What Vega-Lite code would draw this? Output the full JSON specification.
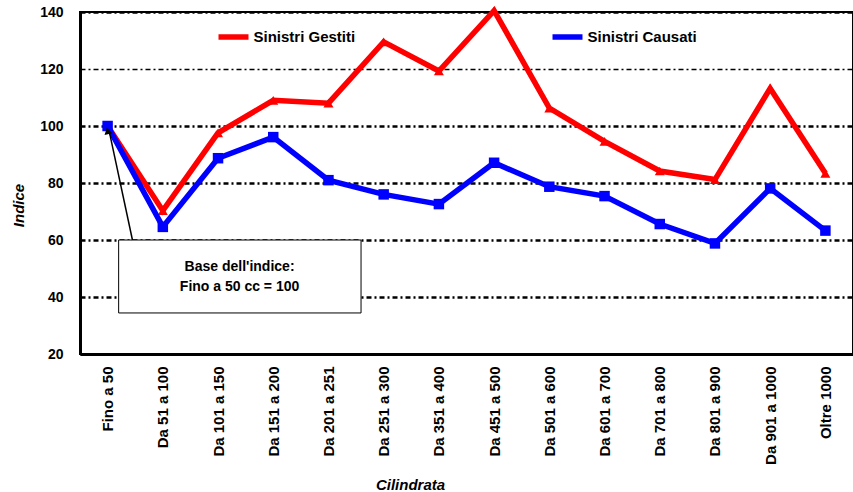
{
  "$schema": "https://vega.github.io/schema/vega-lite/v6.json",
  "width": 773,
  "height": 342,
  "autosize": "none",
  "padding": {"left": 80, "top": 12, "right": 0, "bottom": 138},
  "background": "white",
  "config": {
    "font": "Liberation Sans",
    "view": {"stroke": "black", "strokeWidth": 2}
  },
  "datasets": {
    "main": [
      {"cat": "Fino a 50", "serie": "Sinistri Gestiti", "val": 100},
      {"cat": "Da 51 a 100", "serie": "Sinistri Gestiti", "val": 70.3},
      {"cat": "Da 101 a 150", "serie": "Sinistri Gestiti", "val": 97.6},
      {"cat": "Da 151 a 200", "serie": "Sinistri Gestiti", "val": 109},
      {"cat": "Da 201 a 251", "serie": "Sinistri Gestiti", "val": 108},
      {"cat": "Da 251 a 300", "serie": "Sinistri Gestiti", "val": 129.5},
      {"cat": "Da 351 a 400", "serie": "Sinistri Gestiti", "val": 119.3},
      {"cat": "Da 451 a 500", "serie": "Sinistri Gestiti", "val": 140.5},
      {"cat": "Da 501 a 600", "serie": "Sinistri Gestiti", "val": 106.3},
      {"cat": "Da 601 a 700", "serie": "Sinistri Gestiti", "val": 94.6},
      {"cat": "Da 701 a 800", "serie": "Sinistri Gestiti", "val": 84.2},
      {"cat": "Da 801 a 900", "serie": "Sinistri Gestiti", "val": 81.2},
      {"cat": "Da 901 a 1000", "serie": "Sinistri Gestiti", "val": 113.2},
      {"cat": "Oltre 1000", "serie": "Sinistri Gestiti", "val": 83.4},
      {"cat": "Fino a 50", "serie": "Sinistri Causati", "val": 100},
      {"cat": "Da 51 a 100", "serie": "Sinistri Causati", "val": 64.6},
      {"cat": "Da 101 a 150", "serie": "Sinistri Causati", "val": 88.7},
      {"cat": "Da 151 a 200", "serie": "Sinistri Causati", "val": 96.1},
      {"cat": "Da 201 a 251", "serie": "Sinistri Causati", "val": 81},
      {"cat": "Da 251 a 300", "serie": "Sinistri Causati", "val": 76},
      {"cat": "Da 351 a 400", "serie": "Sinistri Causati", "val": 72.6},
      {"cat": "Da 451 a 500", "serie": "Sinistri Causati", "val": 87.1},
      {"cat": "Da 501 a 600", "serie": "Sinistri Causati", "val": 78.7},
      {"cat": "Da 601 a 700", "serie": "Sinistri Causati", "val": 75.4},
      {"cat": "Da 701 a 800", "serie": "Sinistri Causati", "val": 65.6},
      {"cat": "Da 801 a 900", "serie": "Sinistri Causati", "val": 58.8},
      {"cat": "Da 901 a 1000", "serie": "Sinistri Causati", "val": 78.1},
      {"cat": "Oltre 1000", "serie": "Sinistri Causati", "val": 63.3}
    ],
    "box": [{"ax0": 0.70, "ax1": 5.09, "y0": 60, "y1": 34.4}],
    "arrow": [{"ax0": 0.95, "ax1": 0.52, "y0": 60, "y1": 99}],
    "head": [{"ax": 0.5, "y": 98.3}],
    "label": [
      {"ax": 2.89, "y": 50.4, "txt": "Base dell'indice:"},
      {"ax": 2.89, "y": 43.6, "txt": "Fino a 50 cc = 100"}
    ]
  },
  "layer": [
    {
      "layer": [
        {
          "data": {"name": "main"},
          "transform": [{"filter": "datum.serie === 'Sinistri Gestiti'"}],
          "mark": {"type": "line", "strokeWidth": 5.5},
          "encoding": {
            "x": {
              "field": "cat", "type": "ordinal", "sort": null,
              "scale": {"type": "point", "padding": 0.5},
              "axis": {
                "title": "Cilindrata",
                "titleFont": "Liberation Sans", "titleFontSize": 15, "titleFontWeight": "bold", "titleFontStyle": "italic",
                "titleX": 330, "titleY": 135, "titleBaseline": "alphabetic", "titleAlign": "center", "titleAnchor": null,
                "labelAngle": -90, "labelAlign": "right", "labelBaseline": "middle",
                "labelFont": "Liberation Sans", "labelFontSize": 15, "labelFontWeight": "bold", "labelColor": "black",
                "labelPadding": 12, "ticks": false, "labelOverlap": false,
                "domainColor": "black", "domainWidth": 3, "grid": false
              }
            },
            "y": {
              "field": "val", "type": "quantitative",
              "scale": {"domain": [20, 140], "nice": false, "zero": false},
              "axis": {
                "title": "Indice", "values": [20, 40, 60, 80, 100, 120, 140],
                "titleFont": "Liberation Sans", "titleFontSize": 15, "titleFontWeight": "bold", "titleFontStyle": "italic",
                "titleX": -62, "titleY": 193, "titleAngle": -90, "titleAlign": "center", "titleBaseline": "middle",
                "labelFont": "Liberation Sans", "labelFontSize": 14, "labelFontWeight": "bold", "labelColor": "black",
                "labelPadding": 17, "ticks": false,
                "domainColor": "black", "domainWidth": 3,
                "grid": true, "gridColor": "black",
                "gridDash": [5, 3, 2, 3],
                "gridWidth": {"condition": {"test": "datum.value === 120", "value": 1.3}, "value": 2.5}
              }
            },
            "color": {
              "field": "serie", "type": "nominal",
              "scale": {"domain": ["Sinistri Gestiti", "Sinistri Causati"], "range": ["#ff0000", "#0000ff"]},
              "legend": {
                "title": null, "orient": "none", "legendX": 135.5, "legendY": 7,
                "direction": "horizontal", "columnPadding": 186,
                "symbolType": "stroke", "symbolStrokeWidth": 5.5, "symbolSize": 900,
                "labelFont": "Liberation Sans", "labelFontSize": 15, "labelFontWeight": "bold", "labelColor": "black",
                "labelOffset": 2
              }
            }
          }
        },
        {
          "data": {"name": "main"},
          "transform": [{"filter": "datum.serie === 'Sinistri Gestiti'"}],
          "mark": {"type": "point", "shape": "triangle-up", "filled": true, "size": 100, "opacity": 1},
          "encoding": {
            "x": {"field": "cat", "type": "ordinal", "sort": null},
            "y": {"field": "val", "type": "quantitative"},
            "color": {"field": "serie", "type": "nominal"}
          }
        },
        {
          "data": {"name": "main"},
          "transform": [{"filter": "datum.serie === 'Sinistri Causati'"}],
          "mark": {"type": "line", "strokeWidth": 5.5},
          "encoding": {
            "x": {"field": "cat", "type": "ordinal", "sort": null},
            "y": {"field": "val", "type": "quantitative"},
            "color": {"field": "serie", "type": "nominal"}
          }
        },
        {
          "data": {"name": "main"},
          "transform": [{"filter": "datum.serie === 'Sinistri Causati'"}],
          "mark": {"type": "point", "shape": "square", "filled": true, "size": 110, "opacity": 1},
          "encoding": {
            "x": {"field": "cat", "type": "ordinal", "sort": null},
            "y": {"field": "val", "type": "quantitative"},
            "color": {"field": "serie", "type": "nominal"}
          }
        }
      ]
    },
    {
      "layer": [
        {
          "data": {"name": "box"},
          "mark": {"type": "rect", "fill": "white", "stroke": "black", "strokeWidth": 1},
          "encoding": {
            "x": {"field": "ax0", "type": "quantitative", "scale": {"domain": [0, 14], "nice": false, "zero": false}, "axis": null},
            "x2": {"field": "ax1"},
            "y": {"field": "y0", "type": "quantitative"},
            "y2": {"field": "y1"}
          }
        },
        {
          "data": {"name": "arrow"},
          "mark": {"type": "rule", "color": "black", "strokeWidth": 1.5},
          "encoding": {
            "x": {"field": "ax0", "type": "quantitative", "axis": null},
            "x2": {"field": "ax1"},
            "y": {"field": "y0", "type": "quantitative"},
            "y2": {"field": "y1"}
          }
        },
        {
          "data": {"name": "head"},
          "mark": {"type": "point", "shape": "triangle-up", "filled": true, "color": "black", "size": 60, "angle": -12.4, "opacity": 1},
          "encoding": {
            "x": {"field": "ax", "type": "quantitative", "axis": null},
            "y": {"field": "y", "type": "quantitative"}
          }
        },
        {
          "data": {"name": "label"},
          "mark": {"type": "text", "font": "Liberation Sans", "fontSize": 14, "fontWeight": "bold", "color": "black", "align": "center", "baseline": "middle"},
          "encoding": {
            "x": {"field": "ax", "type": "quantitative", "axis": null},
            "y": {"field": "y", "type": "quantitative"},
            "text": {"field": "txt"}
          }
        }
      ]
    }
  ],
  "resolve": {"scale": {"x": "independent"}}
}
